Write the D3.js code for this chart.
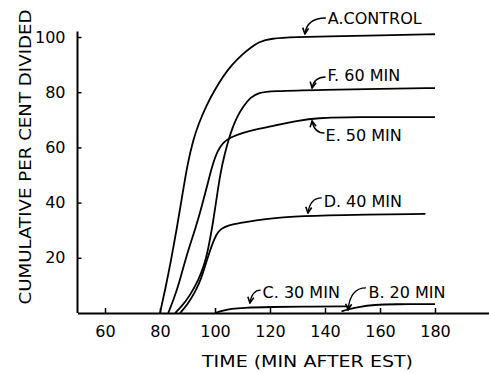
<!DOCTYPE html>
<html>
<head>
<meta charset="utf-8">
<script src="https://cdn.jsdelivr.net/npm/d3@7"></script>
<style>
  body { margin: 0; background: #fff; }
  svg { display: block; }
  text { font-family: "DejaVu Sans", sans-serif; fill: #000; }
</style>
</head>
<body>
<div id="chart"></div>
<script>
// time (min after EST) vs cumulative per cent divided
const xTicks = [60, 80, 100, 120, 140, 160, 180];
const yTicks = [20, 40, 60, 80, 100];

const control = [[80, 0], [82, 9], [84, 19], [86, 30], [88, 42], [90, 54], [92, 62.5], [94, 68.5], [97, 75.5],
  [100, 81], [103, 85.8], [106, 89.8], [110, 93.8], [113, 96.2], [116, 98.2], [120, 99.5], [130, 100], [140, 100.2], [160, 100.6], [180, 101]];
const min60 = [[85.5, 0], [88, 2.5], [91, 6.5], [94, 12], [96, 17], [97.5, 23], [99, 31], [100.5, 41], [102, 51],
  [103.5, 57.5], [105, 63], [106.5, 67.5], [108, 71], [110, 74.5], [113, 78.3], [116, 79.8], [120, 80.4], [140, 80.9], [160, 81.2], [180, 81.5]];
const min50 = [[83, 0], [85, 5], [87, 11], [89, 18.5], [91, 25], [93, 31], [95, 38], [97, 45.5], [99, 53.5],
  [101, 59], [103, 61.8], [105.5, 63.6], [110, 65.3], [116, 66.8], [121, 67.8], [130, 69.6], [137, 70.7], [150, 71], [180, 71]];
const min40 = [[87.3, 0], [90, 3], [93, 8], [95, 12.5], [97, 19], [99, 25], [100.5, 28.5], [102, 30.5], [105, 31.8],
  [109, 32.6], [115, 33.6], [121, 34.3], [127, 34.9], [144, 35.5], [176.5, 35.9]];
const min30 = [[100, 0], [103, 0.9], [106, 1.5], [110, 1.9], [120, 2.2], [135, 2.3], [149, 2.4]];
const min20 = [[146, 0.6], [148, 1.2], [152, 2.2], [158, 3.0], [165, 3.2], [180, 3.2]];

const series = [control, min60, min50, min40, min30, min20];

// label: text position, arrow tail, arrow tip (data units)
const labels = [
  { text: 'A.CONTROL', at: [141, 106.9], tail: [140.3, 106.9], tip: [132.7, 101.1] },
  { text: 'F. 60 MIN', at: [140.9, 86.2], tail: [140.2, 85.5], tip: [135.3, 81.5] },
  { text: 'E. 50 MIN', at: [140.2, 64.5], tail: [139.8, 65.2], tip: [135.3, 69.6] },
  { text: 'D. 40 MIN', at: [139.5, 40.6], tail: [138.8, 41.7], tip: [133.8, 36.2] },
  { text: 'C. 30 MIN', at: [117.3, 7.6], tail: [116.6, 8.3], tip: [112.7, 3.6] },
  { text: 'B. 20 MIN', at: [155.8, 7.6], tail: [154.9, 9.1], tip: [148.4, 1.1] }
];

const width = 489, height = 373;

const svg = d3.select('#chart').append('svg')
  .attr('width', width)
  .attr('height', height);

const x = d3.scaleLinear().domain([50, 200]).range([77.5, 490]);
const y = d3.scaleLinear().domain([0, 100]).range([313, 37]);

svg.append('defs').append('marker')
  .attr('id', 'head')
  .attr('viewBox', '0 0 8 8')
  .attr('refX', 7).attr('refY', 4)
  .attr('markerWidth', 8).attr('markerHeight', 8)
  .attr('markerUnits', 'userSpaceOnUse')
  .attr('orient', 'auto')
  .append('path')
  .attr('d', 'M1,1 L7,4 L1,7')
  .attr('fill', 'none')
  .attr('stroke', '#000')
  .attr('stroke-width', 1.6);

// x axis
const xAxis = svg.append('g')
  .attr('transform', `translate(0, ${y(0)})`)
  .call(d3.axisBottom(x).tickValues(xTicks).tickSizeInner(-5).tickSizeOuter(0).tickPadding(13));
xAxis.select('.domain').attr('stroke-width', 2);
xAxis.selectAll('.tick line').attr('stroke-width', 1.5);
xAxis.selectAll('.tick text').style('font-size', '16px').style('font-family', '"DejaVu Sans", sans-serif');

// y axis
const yAxis = svg.append('g')
  .attr('transform', `translate(${x(50)}, 0)`)
  .call(d3.axisLeft(y).tickValues(yTicks).tickSizeInner(-4).tickSizeOuter(0).tickPadding(12));
yAxis.select('.domain').remove();
yAxis.append('line')
  .attr('y1', y(0)).attr('y2', y(102))
  .attr('stroke', '#000').attr('stroke-width', 2);
yAxis.selectAll('.tick line').attr('stroke-width', 1.5);
yAxis.selectAll('.tick text').style('font-size', '16px').style('font-family', '"DejaVu Sans", sans-serif');

const line = d3.line()
  .x(d => x(d[0]))
  .y(d => y(d[1]))
  .curve(d3.curveBasis);

svg.append('g').selectAll('path')
  .data(series)
  .enter().append('path')
  .attr('d', line)
  .attr('fill', 'none')
  .attr('stroke', '#000')
  .attr('stroke-width', 1.8);

// labels and arrows
const ann = svg.append('g');
ann.selectAll('path')
  .data(labels)
  .enter().append('path')
  .attr('d', d => {
    const t0 = [x(d.tail[0]), y(d.tail[1])], t1 = [x(d.tip[0]), y(d.tip[1])];
    return `M${t0[0]},${t0[1]} Q${t1[0] + 2},${t0[1]} ${t1[0]},${t1[1]}`;
  })
  .attr('fill', 'none')
  .attr('stroke', '#000')
  .attr('stroke-width', 1.4)
  .attr('marker-end', 'url(#head)');

ann.selectAll('text')
  .data(labels)
  .enter().append('text')
  .attr('x', d => x(d.at[0]))
  .attr('y', d => y(d.at[1]))
  .attr('dy', '0.36em')
  .style('font-size', '16px')
  .text(d => d.text);

// axis titles
svg.append('text')
  .attr('x', 307.5)
  .attr('y', 367)
  .attr('text-anchor', 'middle')
  .attr('textLength', 211)
  .attr('lengthAdjust', 'spacingAndGlyphs')
  .style('font-size', '15px')
  .text('TIME (MIN AFTER EST)');

svg.append('text')
  .attr('transform', 'translate(31, 157) rotate(-90)')
  .attr('text-anchor', 'middle')
  .attr('textLength', 295)
  .attr('lengthAdjust', 'spacingAndGlyphs')
  .style('font-size', '16px')
  .text('CUMULATIVE PER CENT DIVIDED');
</script>
</body>
</html>
